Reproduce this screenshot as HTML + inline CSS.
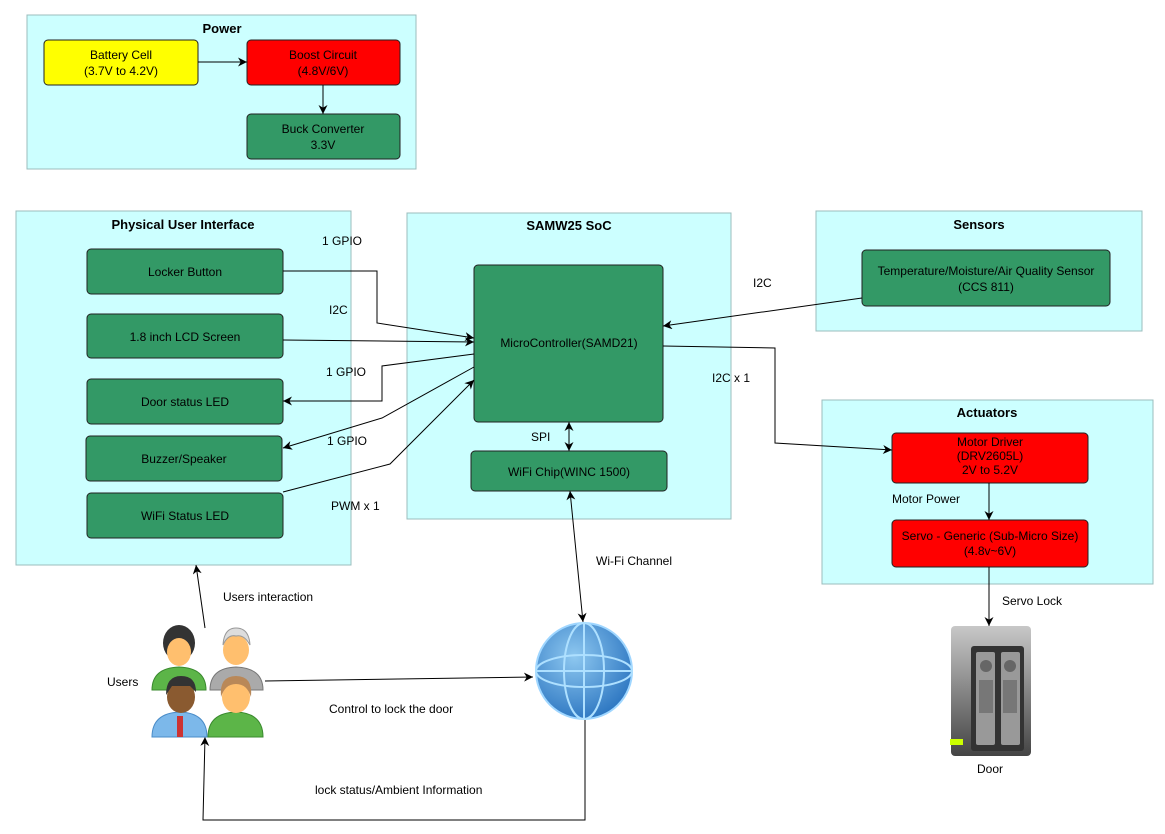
<!DOCTYPE html>
<html><head><meta charset="utf-8"><style>
html,body{margin:0;padding:0;background:#fff;}
svg{display:block;font-family:"Liberation Sans",sans-serif;}
.t{font-size:12px;fill:#000;}
.b{font-size:13px;font-weight:bold;fill:#000;}
.c{fill:#ccffff;stroke:#9bbcbc;stroke-width:1;}
.g{fill:#339966;stroke:#222;stroke-width:1;}
.r{fill:#ff0000;stroke:#222;stroke-width:1;}
.l{fill:none;stroke:#000;stroke-width:1;}
</style></head><body>
<svg width="1165" height="834" viewBox="0 0 1165 834" xmlns="http://www.w3.org/2000/svg">
<defs>
<marker id="a" viewBox="0 0 10 10" refX="10" refY="5" markerWidth="9" markerHeight="9" orient="auto-start-reverse" markerUnits="userSpaceOnUse"><path d="M0,0 L10,5 L0,10 L3,5 z" fill="#000"/></marker>
<radialGradient id="gl" cx="0.4" cy="0.35" r="0.7"><stop offset="0" stop-color="#8ec8f0"/><stop offset="1" stop-color="#2a74c0"/></radialGradient>
<linearGradient id="dr" x1="0" y1="0" x2="0" y2="1"><stop offset="0" stop-color="#c8c8c8"/><stop offset="1" stop-color="#444"/></linearGradient>
</defs>
<!-- containers -->
<rect class="c" x="27" y="15" width="389" height="154"/>
<rect class="c" x="16" y="211" width="335" height="354"/>
<rect class="c" x="407" y="213" width="324" height="306"/>
<rect class="c" x="816" y="211" width="326" height="120"/>
<rect class="c" x="822" y="400" width="331" height="184"/>
<text class="b" x="222" y="33" text-anchor="middle">Power</text>
<text class="b" x="183" y="229" text-anchor="middle">Physical User Interface</text>
<text class="b" x="569" y="230" text-anchor="middle">SAMW25 SoC</text>
<text class="b" x="979" y="229" text-anchor="middle">Sensors</text>
<text class="b" x="987" y="417" text-anchor="middle">Actuators</text>
<!-- boxes -->
<rect x="44" y="40" width="154" height="45" rx="4" fill="#ffff00" stroke="#222"/>
<text class="t" x="121" y="59" text-anchor="middle">Battery Cell</text>
<text class="t" x="121" y="75" text-anchor="middle">(3.7V to 4.2V)</text>
<rect class="r" x="247" y="40" width="153" height="45" rx="4"/>
<text class="t" x="323" y="59" text-anchor="middle">Boost Circuit</text>
<text class="t" x="323" y="75" text-anchor="middle">(4.8V/6V)</text>
<rect class="g" x="247" y="114" width="153" height="45" rx="4"/>
<text class="t" x="323" y="133" text-anchor="middle">Buck Converter</text>
<text class="t" x="323" y="149" text-anchor="middle">3.3V</text>

<rect class="g" x="87" y="249" width="196" height="45" rx="4"/>
<text class="t" x="185" y="276" text-anchor="middle">Locker Button</text>
<rect class="g" x="87" y="314" width="196" height="44" rx="4"/>
<text class="t" x="185" y="341" text-anchor="middle">1.8 inch LCD Screen</text>
<rect class="g" x="87" y="379" width="196" height="45" rx="4"/>
<text class="t" x="185" y="406" text-anchor="middle">Door status  LED</text>
<rect class="g" x="86" y="436" width="196" height="45" rx="4"/>
<text class="t" x="184" y="463" text-anchor="middle">Buzzer/Speaker</text>
<rect class="g" x="87" y="493" width="196" height="45" rx="4"/>
<text class="t" x="185" y="520" text-anchor="middle">WiFi Status LED</text>

<rect class="g" x="474" y="265" width="189" height="157" rx="4"/>
<text class="t" x="569" y="347" text-anchor="middle">MicroController(SAMD21)</text>
<rect class="g" x="471" y="451" width="196" height="40" rx="4"/>
<text class="t" x="569" y="476" text-anchor="middle">WiFi Chip(WINC 1500)</text>

<rect class="g" x="862" y="250" width="248" height="56" rx="4"/>
<text class="t" x="986" y="275" text-anchor="middle">Temperature/Moisture/Air Quality Sensor</text>
<text class="t" x="986" y="291" text-anchor="middle">(CCS 811)</text>

<rect class="r" x="892" y="433" width="196" height="50" rx="4"/>
<text class="t" x="990" y="446" text-anchor="middle">Motor Driver</text>
<text class="t" x="990" y="460" text-anchor="middle">(DRV2605L)</text>
<text class="t" x="990" y="474" text-anchor="middle">2V to 5.2V</text>
<rect class="r" x="892" y="520" width="196" height="47" rx="4"/>
<text class="t" x="990" y="540" text-anchor="middle">Servo - Generic (Sub-Micro Size)</text>
<text class="t" x="990" y="555" text-anchor="middle">(4.8v~6V)</text>

<!-- connectors -->
<path class="l" d="M198,62 H247" marker-end="url(#a)"/>
<path class="l" d="M323,85 V114" marker-end="url(#a)"/>
<path class="l" d="M283,271 H377 V323 L474,338" marker-end="url(#a)"/>
<path class="l" d="M283,340 L474,342" marker-end="url(#a)"/>
<path class="l" d="M474,354 L382,366 V401 H283" marker-end="url(#a)"/>
<path class="l" d="M474,367 L382,418 L283,448" marker-end="url(#a)"/>
<path class="l" d="M283,492 L390,464 L474,380" marker-end="url(#a)"/>
<path class="l" d="M569,422 V451" marker-start="url(#a)" marker-end="url(#a)"/>
<path class="l" d="M570,491 L583,622" marker-start="url(#a)" marker-end="url(#a)"/>
<path class="l" d="M862,298 L663,326" marker-end="url(#a)"/>
<path class="l" d="M663,346 L775,348 V443 L892,450" marker-end="url(#a)"/>
<path class="l" d="M989,483 V520" marker-end="url(#a)"/>
<path class="l" d="M989,567 V626" marker-end="url(#a)"/>
<path class="l" d="M205,628 L196,565" marker-end="url(#a)"/>
<path class="l" d="M265,681 L533,677" marker-end="url(#a)"/>
<path class="l" d="M585,718 V820 H203 L205,737" marker-end="url(#a)"/>

<!-- labels -->
<text class="t" x="322" y="245">1 GPIO</text>
<text class="t" x="329" y="314">I2C</text>
<text class="t" x="326" y="376">1 GPIO</text>
<text class="t" x="327" y="445">1 GPIO</text>
<text class="t" x="331" y="510">PWM x 1</text>
<text class="t" x="531" y="441">SPI</text>
<text class="t" x="753" y="287">I2C</text>
<text class="t" x="712" y="382">I2C x 1</text>
<text class="t" x="892" y="503">Motor Power</text>
<text class="t" x="1002" y="605">Servo Lock</text>
<text class="t" x="596" y="565">Wi-Fi Channel</text>
<text class="t" x="223" y="601">Users interaction</text>
<text class="t" x="107" y="686">Users</text>
<text class="t" x="329" y="713">Control to lock the door</text>
<text class="t" x="315" y="794">lock status/Ambient Information</text>
<text class="t" x="990" y="773" text-anchor="middle">Door</text>

<!-- users -->
<path d="M152,690 Q152,668 179,667 Q206,668 206,690 Z" fill="#5cb548" stroke="#3a8a2e"/>
<ellipse cx="179" cy="643" rx="16" ry="18" fill="#333"/>
<ellipse cx="179" cy="652" rx="12" ry="14" fill="#ffbf6e"/>
<path d="M210,690 Q210,668 236,667 Q263,668 263,690 Z" fill="#aaa" stroke="#777"/>
<ellipse cx="236" cy="650" rx="13" ry="15" fill="#ffbf6e"/>
<path d="M223,645 Q224,628 236,628 Q249,628 250,645 Q244,634 236,636 Q228,634 223,645Z" fill="#ddd" stroke="#999"/>
<path d="M152,737 Q152,713 180,712 Q207,713 207,737 Z" fill="#7cb8ea" stroke="#4a8cc8"/>
<rect x="177" y="716" width="6" height="21" fill="#c33"/>
<ellipse cx="181" cy="697" rx="14" ry="16" fill="#8a5a30"/>
<path d="M166,695 Q166,676 181,676 Q196,676 196,692 L190,686 L172,686 Z" fill="#333"/>
<path d="M208,737 Q208,713 236,712 Q263,713 263,737 Z" fill="#5cb548" stroke="#3a8a2e"/>
<ellipse cx="236" cy="697" rx="14" ry="16" fill="#ffbf6e"/>
<path d="M221,697 Q219,676 236,676 Q253,676 251,697 Q247,684 236,684 Q225,684 221,697Z" fill="#b98858"/>

<!-- globe -->
<circle cx="584" cy="671" r="48" fill="url(#gl)" stroke="#9fd6ff" stroke-width="2"/>
<ellipse cx="584" cy="671" rx="20" ry="48" fill="none" stroke="#aee0ff" stroke-width="2"/>
<ellipse cx="584" cy="671" rx="48" ry="16" fill="none" stroke="#aee0ff" stroke-width="2"/>
<line x1="536" y1="671" x2="632" y2="671" stroke="#aee0ff" stroke-width="2"/>
<line x1="584" y1="623" x2="584" y2="719" stroke="#aee0ff" stroke-width="2"/>

<!-- door -->
<rect x="951" y="626" width="80" height="130" rx="4" fill="url(#dr)"/>
<rect x="971" y="646" width="53" height="105" rx="3" fill="#333"/>
<rect x="976" y="652" width="19" height="93" rx="2" fill="#999"/>
<rect x="1001" y="652" width="19" height="93" rx="2" fill="#999"/>
<circle cx="986" cy="666" r="6" fill="#666"/>
<circle cx="1010" cy="666" r="6" fill="#666"/>
<rect x="979" y="680" width="14" height="33" fill="#777"/>
<rect x="1003" y="680" width="14" height="33" fill="#777"/>
<rect x="950" y="739" width="13" height="6" fill="#ccff00"/>
</svg>
</body></html>
